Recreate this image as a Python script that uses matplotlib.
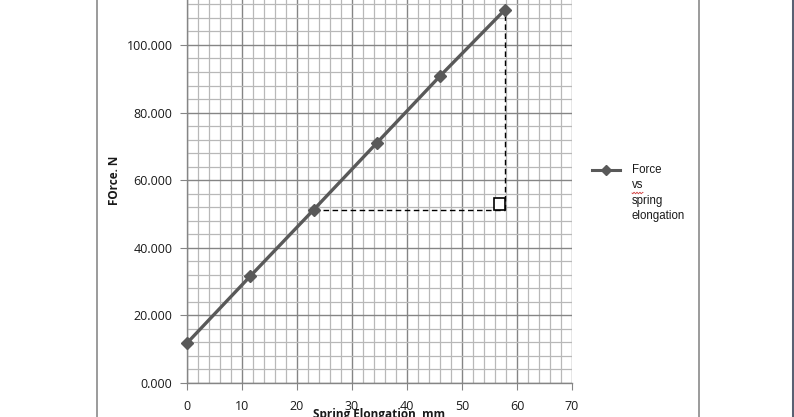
import matplotlib
matplotlib.use("Agg")
import matplotlib.pyplot as plt
from matplotlib.lines import Line2D
from matplotlib.patches import Rectangle
from matplotlib.ticker import MultipleLocator, FuncFormatter
import numpy as np

# Data
elongation_mm = [0, 11.5, 23.0, 34.5, 46.0, 57.8]
force_n = [11.8, 31.6, 51.2, 71.0, 90.8, 110.4]
x_ticks = [0, 10, 20, 30, 40, 50, 60, 70]
y_ticks = [0, 20, 40, 60, 80, 100]
series_label = "Force\nvs\nspring\nelongation"

W, H = 794, 417
fig = plt.figure(figsize=(W / 100, H / 100), dpi=100)
fig.patch.set_facecolor("white")

left, right, bottom, top = 187, 572, 383, 0
ax = fig.add_axes([left / W, 1 - bottom / H, (right - left) / W, (bottom - top) / H])
ax.set_xlim(0, 70)
ax.set_ylim(0, 113.3)

ax.xaxis.set_minor_locator(MultipleLocator(2))
ax.yaxis.set_minor_locator(MultipleLocator(4))
ax.set_xticks(x_ticks)
ax.set_yticks(y_ticks)
ax.yaxis.set_major_formatter(FuncFormatter(lambda v, p: f"{v:.3f}"))

ax.grid(which="minor", color="#b8b8b8", lw=0.9)
ax.grid(which="major", color="#858585", lw=1.0)
ax.set_axisbelow(True)

for s in ["top", "right"]:
    ax.spines[s].set_visible(False)
for s in ["left", "bottom"]:
    ax.spines[s].set_color("#858585")
    ax.spines[s].set_linewidth(1.0)

ax.tick_params(which="major", direction="out", length=5, color="#858585",
               labelsize=9, labelcolor="#1a1a1a")
ax.tick_params(axis="y", pad=5.5)
ax.tick_params(axis="x", pad=7.5)
ax.tick_params(which="minor", length=0)
for lbl in ax.get_xticklabels() + ax.get_yticklabels():
    lbl.set_fontfamily("Open Sans")

# series
ax.plot(elongation_mm, force_n, color="#595959", lw=2.4, marker="D", ms=6,
        mfc="#595959", mec="#595959", zorder=5, clip_on=False)

# triangle construction (dashed lines from data points)
x3, y3 = elongation_mm[2], force_n[2]
x6, y6 = elongation_mm[-1], force_n[-1]
ax.plot([x3, x6], [y3, y3], color="black", lw=1.0, ls=(0, (4, 2.5)), zorder=4)
ax.plot([x6, x6], [y3, y6], color="black", lw=1.0, ls=(0, (4, 2.5)), zorder=4)
ax.add_patch(Rectangle((x6 - 2.0, y3), 2.0, 3.5, fill=True, facecolor="white",
                       edgecolor="black", lw=1.2, zorder=4))

# axis titles
fig.text(114 / W, 1 - 180 / H, "FOrce. N", rotation=90, ha="center", va="center",
         fontsize=8.5, fontweight="bold", family="Open Sans", color="#1a1a1a")
fig.text(379 / W, 1 - 408 / H, "Spring Elongation, mm", ha="center", va="top",
         fontsize=8.5, fontweight="bold", family="Open Sans", color="#1a1a1a")

# legend (manual)
fig.add_artist(Line2D([592 / W, 620 / W], [1 - 170 / H, 1 - 170 / H], color="#595959",
                      lw=2.2))
fig.add_artist(Line2D([606 / W], [1 - 170 / H], color="#595959", marker="D", ms=5,
                      ls="none"))
fig.text(632 / W, 1 - 164 / H, series_label, ha="left", va="top", fontsize=8.3,
         family="Liberation Sans", color="#1a1a1a", linespacing=1.38)
# spell-check squiggle under "vs"
sx = np.linspace(632, 643, 23)
sy = 193 + 0.8 * np.sin((sx - 632) * 2.2)
fig.add_artist(Line2D(sx / W, 1 - sy / H, color="#d04040", lw=0.6))

# frame lines of the screenshot
fig.add_artist(Line2D([96.5 / W, 96.5 / W], [0, 1], color="#8a8a8a", lw=1.2))
fig.add_artist(Line2D([698.5 / W, 698.5 / W], [0, 1], color="#8a8a8a", lw=1.2))
fig.add_artist(Line2D([792.5 / W, 792.5 / W], [0, 1], color="#5a6072", lw=2.2))

fig.savefig("out.png", dpi=100, facecolor="white")
